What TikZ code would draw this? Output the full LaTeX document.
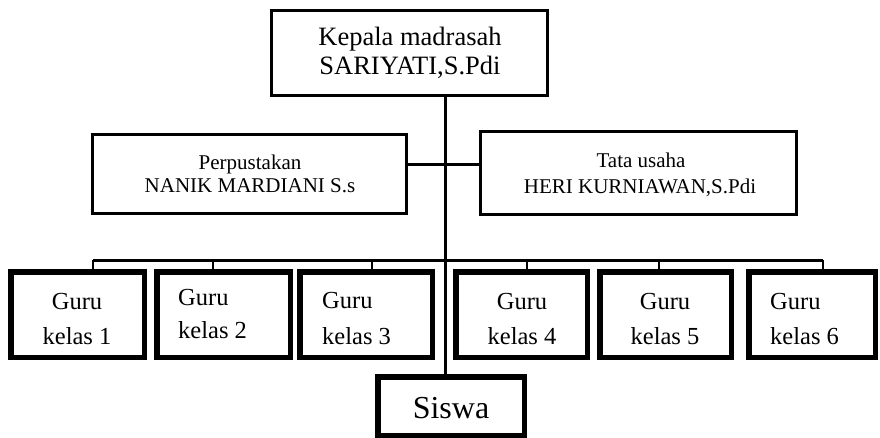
\documentclass[tikz,border=0pt]{standalone}
\usepackage{fontspec}
\setmainfont{Liberation Serif}
\begin{document}
\begin{tikzpicture}[x=1pt,y=-1pt,
  thinbox/.style={draw=black,line width=3pt,rectangle,inner sep=0pt,fill=white},
  thickbox/.style={draw=black,line width=5.5pt,rectangle,inner sep=0pt,fill=white},
  conn/.style={draw=black,line width=3pt},
  drop/.style={draw=black,line width=2.6pt},
  txt/.style={inner sep=0pt,anchor=base},
  ltxt/.style={inner sep=0pt,anchor=base west},
  fA/.style={font=\fontsize{26.5}{30}\selectfont},
  fB/.style={font=\fontsize{21}{25}\selectfont},
  fC/.style={font=\fontsize{24.5}{29}\selectfont},
  fD/.style={font=\fontsize{32}{38}\selectfont}]
\useasboundingbox (0,0) rectangle (880,438);
% coordinates
\coordinate (j) at (445,165);
\coordinate (bus) at (445,260);
\coordinate (d1) at (93,260);
\coordinate (d2) at (213,260);
\coordinate (d3) at (372,260);
\coordinate (d4) at (527,260);
\coordinate (d5) at (659,260);
\coordinate (d6) at (823,260);
% boxes
\node[thinbox,minimum width=276pt,minimum height=85pt] (top) at (409.5,53) {};
\node[thinbox,minimum width=314pt,minimum height=79pt] (perp) at (249.5,174) {};
\node[thinbox,minimum width=316pt,minimum height=83pt] (tata) at (638.5,173) {};
\node[thickbox,minimum width=133.5pt,minimum height=85.5pt] (g1) at (77.5,314.5) {};
\node[thickbox,minimum width=133.5pt,minimum height=85.5pt] (g2) at (223.5,314.5) {};
\node[thickbox,minimum width=132.5pt,minimum height=85.5pt] (g3) at (366,314.5) {};
\node[thickbox,minimum width=131.5pt,minimum height=85.5pt] (g4) at (521.5,314.5) {};
\node[thickbox,minimum width=131.5pt,minimum height=85.5pt] (g5) at (665.5,314.5) {};
\node[thickbox,minimum width=126.5pt,minimum height=85.5pt] (g6) at (812,314.5) {};
\node[thickbox,minimum width=146.5pt,minimum height=58.5pt] (siswa) at (451,406) {};
% connectors
\draw[conn] (top.south -| j) -- (siswa.north -| j);
\draw[conn] (perp.east |- j) -- (tata.west |- j);
\draw[conn] (d1) -- (d6);
\draw[drop] (d1) -- (d1 |- g1.north);
\draw[drop] (d2) -- (d2 |- g2.north);
\draw[drop] (d3) -- (d3 |- g3.north);
\draw[drop] (d4) -- (d4 |- g4.north);
\draw[drop] (d5) -- (d5 |- g5.north);
\draw[drop] (d6) -- (d6 |- g6.north);
% texts
\node[txt,fA] (t1a) at (410,46) {Kepala madrasah};
\node[txt,fA] (t1b) at (410,75) {SARIYATI,S.Pdi};
\node[txt,fB] (t2a) at (250,170) {Perpustakan};
\node[txt,fB] (t2b) at (250,193) {NANIK MARDIANI S.s};
\node[txt,fB] (t3a) at (641,168) {Tata usaha};
\node[txt,fB] (t3b) at (640,194) {HERI KURNIAWAN,S.Pdi};
\node[txt,fC] (g1a) at (77,309) {Guru};
\node[txt,fC] (g1b) at (77,344) {kelas 1};
\node[ltxt,fC] (g2a) at (178,305) {Guru};
\node[ltxt,fC] (g2b) at (178,338) {kelas 2};
\node[ltxt,fC] (g3a) at (322,308) {Guru};
\node[ltxt,fC] (g3b) at (322,344) {kelas 3};
\node[txt,fC] (g4a) at (522,309) {Guru};
\node[txt,fC] (g4b) at (522,344) {kelas 4};
\node[txt,fC] (g5a) at (665,309) {Guru};
\node[txt,fC] (g5b) at (665,344) {kelas 5};
\node[ltxt,fC] (g6a) at (770,309) {Guru};
\node[ltxt,fC] (g6b) at (770,344) {kelas 6};
\node[txt,fD] (sw) at (451,418) {Siswa};
\end{tikzpicture}
\end{document}
